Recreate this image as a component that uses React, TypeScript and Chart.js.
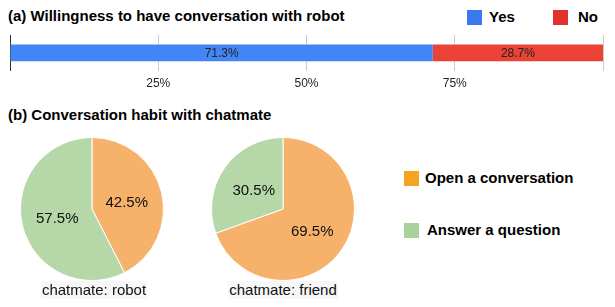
import React, { useEffect, useRef } from 'react';
import { Chart, registerables } from 'chart.js';

Chart.register(...registerables);

// ---------- data ----------
const barCategories = ['Willingness'];
const yesValues = [71.3];
const noValues = [28.7];
const barSeriesNames = ['Yes', 'No'];
const xTickValues = [25, 50, 75];

const pieLabels = ['Open a conversation', 'Answer a question'];
const robotValues = [42.5, 57.5];
const friendValues = [69.5, 30.5];
const pieTitles = ['chatmate: robot', 'chatmate: friend'];

const titleA = '(a) Willingness to have conversation with robot';
const titleB = '(b) Conversation habit with chatmate';

// ---------- styles ----------
const FONT = '"Liberation Sans", Arial, Helvetica, sans-serif';
const BAR_COLORS = ['#4285f4', '#ea4335'];
const BAR_LEGEND_COLORS = ['#3b78ee', '#e2302c'];
const PIE_COLORS = ['#f6b26b', '#b6d7a8'];
const PIE_LEGEND_COLORS = ['#f4a422', '#a9d19a'];

const barLabelPlugin = {
  id: 'barLabels',
  afterDatasetsDraw(chart: any) {
    const ctx = chart.ctx;
    ctx.save();
    ctx.font = `12px ${FONT}`;
    ctx.fillStyle = '#222';
    ctx.textAlign = 'center';
    ctx.textBaseline = 'middle';
    chart.data.datasets.forEach((ds: any, di: number) => {
      const meta = chart.getDatasetMeta(di);
      meta.data.forEach((el: any, i: number) => {
        const p = el.getProps(['x', 'y', 'base'], true);
        const cx = (p.x + p.base) / 2;
        ctx.fillText(`${ds.data[i].toFixed(1)}%`, cx, p.y + 1);
      });
    });
    ctx.restore();
  },
};

const pieLabelPlugin = {
  id: 'pieLabels',
  afterDatasetsDraw(chart: any) {
    const ctx = chart.ctx;
    ctx.save();
    ctx.font = `15px ${FONT}`;
    ctx.fillStyle = '#111';
    ctx.textAlign = 'center';
    ctx.textBaseline = 'middle';
    const ds = chart.data.datasets[0];
    const meta = chart.getDatasetMeta(0);
    meta.data.forEach((arc: any, i: number) => {
      const p = arc.getProps(['x', 'y', 'startAngle', 'endAngle', 'outerRadius'], true);
      const mid = (p.startAngle + p.endAngle) / 2;
      const r = p.outerRadius * 0.5;
      ctx.fillText(`${ds.data[i].toFixed(1)}%`, p.x + Math.cos(mid) * r, p.y + Math.sin(mid) * r + 2);
    });
    ctx.restore();
  },
};

function BarChart() {
  const ref = useRef<HTMLCanvasElement>(null);
  useEffect(() => {
    const chart = new Chart(ref.current!, {
      type: 'bar',
      data: {
        labels: barCategories,
        datasets: [
          {
            label: barSeriesNames[0],
            data: yesValues,
            backgroundColor: BAR_COLORS[0],
            barPercentage: 1,
            categoryPercentage: 0.47,
          },
          {
            label: barSeriesNames[1],
            data: noValues,
            backgroundColor: BAR_COLORS[1],
            barPercentage: 1,
            categoryPercentage: 0.47,
          },
        ],
      },
      options: {
        indexAxis: 'y',
        animation: false,
        responsive: false,
        layout: { padding: { top: 5, left: 10, right: 12, bottom: 0 } },
        plugins: { legend: { display: false }, tooltip: { enabled: false } },
        scales: {
          x: {
            stacked: true,
            min: 0,
            max: 100,
            ticks: {
              stepSize: 25,
              autoSkip: false,
              maxRotation: 0,
              padding: 6,
              color: '#222',
              font: { family: FONT, size: 12 },
              callback: (v: any) => (xTickValues.includes(Number(v)) ? `${v}%` : ''),
            },
            grid: { color: '#cccccc', drawTicks: false },
            border: { display: false },
          },
          y: {
            stacked: true,
            ticks: { display: false },
            grid: { display: false, drawTicks: false },
            border: { display: true, color: '#333', width: 1 },
          },
        },
      } as any,
      plugins: [barLabelPlugin],
    });
    return () => chart.destroy();
  }, []);
  return (
    <canvas
      ref={ref}
      width={615}
      height={67}
      style={{ position: 'absolute', left: 0, top: 30, width: 615, height: 67 }}
    />
  );
}

function PieChart({ values, left }: { values: number[]; left: number }) {
  const ref = useRef<HTMLCanvasElement>(null);
  useEffect(() => {
    const chart = new Chart(ref.current!, {
      type: 'pie',
      data: {
        labels: pieLabels,
        datasets: [
          {
            data: values,
            backgroundColor: PIE_COLORS,
            borderColor: '#ffffff',
            borderWidth: 1,
          },
        ],
      },
      options: {
        animation: false,
        responsive: false,
        layout: { padding: 3 },
        plugins: { legend: { display: false }, tooltip: { enabled: false } },
      },
      plugins: [pieLabelPlugin],
    });
    return () => chart.destroy();
  }, [values]);
  return (
    <canvas
      ref={ref}
      width={150}
      height={150}
      style={{ position: 'absolute', left, top: 134, width: 150, height: 150 }}
    />
  );
}

const textStyle: React.CSSProperties = {
  position: 'absolute',
  fontFamily: FONT,
  whiteSpace: 'nowrap',
  lineHeight: '18px',
  color: '#000',
};

export default function App() {
  return (
    <div
      style={{
        position: 'absolute',
        left: 0,
        top: 0,
        width: 615,
        height: 307,
        background: '#fff',
        overflow: 'hidden',
        fontFamily: FONT,
      }}
    >
      <div style={{ ...textStyle, left: 8, top: 7, fontSize: 15, fontWeight: 700 }}>{titleA}</div>

      {barSeriesNames.map((name, i) => (
        <React.Fragment key={name}>
          <div
            style={{
              position: 'absolute',
              left: i === 0 ? 467 : 553,
              top: 10,
              width: 15,
              height: 15,
              background: BAR_LEGEND_COLORS[i],
            }}
          />
          <div
            style={{ ...textStyle, left: i === 0 ? 489 : 578, top: 8, fontSize: 15, fontWeight: 700 }}
          >
            {name}
          </div>
        </React.Fragment>
      ))}

      <BarChart />

      <div style={{ ...textStyle, left: 8, top: 106, fontSize: 15, fontWeight: 700 }}>{titleB}</div>

      <PieChart values={robotValues} left={17} />
      <PieChart values={friendValues} left={208} />

      {pieTitles.map((t, i) => (
        <div
          key={t}
          style={{
            ...textStyle,
            left: i === 0 ? 94 : 283,
            top: 281,
            transform: 'translateX(-50%)',
            fontSize: 15,
            background: '#f7f7f7',
            color: '#111',
            padding: '0 1px',
          }}
        >
          {t}
        </div>
      ))}

      {pieLabels.map((name, i) => (
        <React.Fragment key={name}>
          <div
            style={{
              position: 'absolute',
              left: 404,
              top: i === 0 ? 171 : 223,
              width: 15,
              height: 15,
              background: PIE_LEGEND_COLORS[i],
            }}
          />
          <div
            style={{
              ...textStyle,
              left: i === 0 ? 425 : 427,
              top: i === 0 ? 169 : 221,
              fontSize: 15,
              fontWeight: 700,
            }}
          >
            {name}
          </div>
        </React.Fragment>
      ))}
    </div>
  );
}
